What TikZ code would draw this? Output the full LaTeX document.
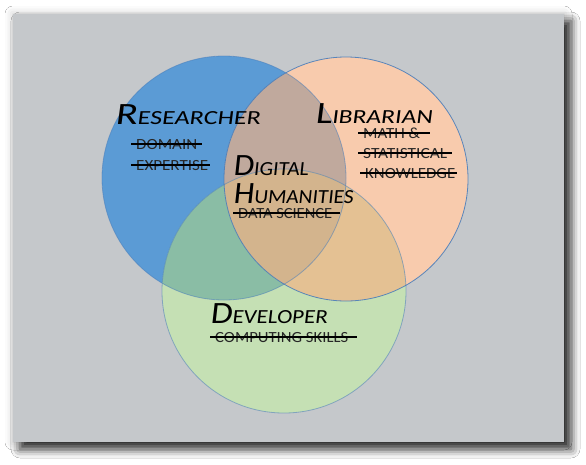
\documentclass[tikz,border=0pt]{standalone}
\usepackage{fontspec}
\usepackage{graphicx}
\usetikzlibrary{shadows.blur}

\newfontfamily\handfont[FakeSlant=0.1]{Carlito}
\newfontfamily\labelfont{Carlito}

\definecolor{panel}{HTML}{C5C8CB}
\definecolor{vblue}{HTML}{5B9BD5}
\definecolor{vorange}{HTML}{F8CBAD}
\definecolor{vgreen}{HTML}{C5E0B4}
\definecolor{vbo}{HTML}{C0A99D}
\definecolor{vbg}{HTML}{8ABDA5}
\definecolor{vog}{HTML}{E4C193}
\definecolor{vbog}{HTML}{D3B48D}
\definecolor{rim}{HTML}{4A7EBB}

% large initial followed by small capitals
\newcommand\handcaps[2]{{\fontsize{31}{31}\selectfont #1}{\fontsize{20}{20}\selectfont #2}}

\tikzset{
  title/.style={font=\handfont, inner sep=0pt, anchor=base west},
  tag/.style={font=\labelfont\fontsize{15.5}{16}\selectfont, inner sep=0pt,
              text depth=0pt, anchor=west, text=black!85},
  strike/.style={line width=1.1pt, black},
  rimline/.style={rim, line width=0.8pt},
}

\begin{document}
\begin{tikzpicture}[x=1pt, y=-1pt]
  \useasboundingbox (0,0) rectangle (586,464);
  \fill[white] (0,0) rectangle (586,464);

  % grey panel: soft halo all round, then the darker offset shadow
  \path[fill=panel, blur shadow={shadow xshift=0pt, shadow yshift=0pt,
        shadow blur radius=8pt, shadow opacity=22}]
    (13,14) rectangle (564,442);
  \path[fill=panel, blur shadow={shadow xshift=7pt, shadow yshift=-7pt,
        shadow blur radius=9pt, shadow opacity=85}]
    (13,14) rectangle (564,442);

  % circle centres
  \coordinate (B) at (224,178);
  \coordinate (O) at (346,179);
  \coordinate (G) at (284,291);
  \def\r{122pt}

  % single regions
  \fill[vblue]   (B) circle[radius=\r];
  \fill[vorange] (O) circle[radius=\r];
  \fill[vgreen]  (G) circle[radius=\r];
  % pairwise overlaps
  \begin{scope}\clip (B) circle[radius=\r]; \fill[vbo] (O) circle[radius=\r];\end{scope}
  \begin{scope}\clip (B) circle[radius=\r]; \fill[vbg] (G) circle[radius=\r];\end{scope}
  \begin{scope}\clip (O) circle[radius=\r]; \fill[vog] (G) circle[radius=\r];\end{scope}
  % triple overlap
  \begin{scope}
    \clip (B) circle[radius=\r];
    \clip (O) circle[radius=\r];
    \fill[vbog] (G) circle[radius=\r];
  \end{scope}

  % outlines
  \draw[rimline, opacity=0.55] (B) circle[radius=\r];
  \draw[rimline, opacity=0.55] (G) circle[radius=\r];
  \draw[rimline, opacity=0.9]  (O) circle[radius=\r];

  % headings
  \node[title] (res) at (115,124) {\resizebox{145pt}{\height}{\handcaps{R}{ESEARCHER}}};
  \node[title] (lib) at (315,123) {\resizebox{117pt}{\height}{\handcaps{L}{IBRARIAN}}};
  \node[title] (dig) at (233,175) {\resizebox{75pt}{\height}{\handcaps{D}{IGITAL}}};
  \node[title] (hum) at (233,203) {\resizebox{120pt}{\height}{\handcaps{H}{UMANITIES}}};
  \node[title] (dev) at (210,323) {\resizebox{117pt}{\height}{\handcaps{D}{EVELOPER}}};

  % struck-through skills
  \node[tag] (dom)  at (136,144) {\resizebox{61pt}{\height}{DOMAIN}};
  \node[tag] (exp)  at (136,165) {\resizebox{72pt}{\height}{EXPERTISE}};
  \node[tag] (math) at (363,133) {\resizebox{57pt}{\height}{MATH \&}};
  \node[tag] (stat) at (363,153) {\resizebox{84pt}{\height}{STATISTICAL}};
  \node[tag] (know) at (365,173) {\resizebox{90pt}{\height}{KNOWLEDGE}};
  \node[tag] (data) at (238,213) {\resizebox{94pt}{\height}{DATA SCIENCE}};
  \node[tag] (comp) at (215,337) {\resizebox{133pt}{\height}{COMPUTING SKILLS}};

  \foreach \n/\rr in {dom/5,exp/2,math/10,stat/5,know/2,data/8,comp/9}{
    \draw[strike] ([xshift=-5pt]\n.west) -- ([xshift=\rr pt]\n.east);
  }
\end{tikzpicture}
\end{document}
